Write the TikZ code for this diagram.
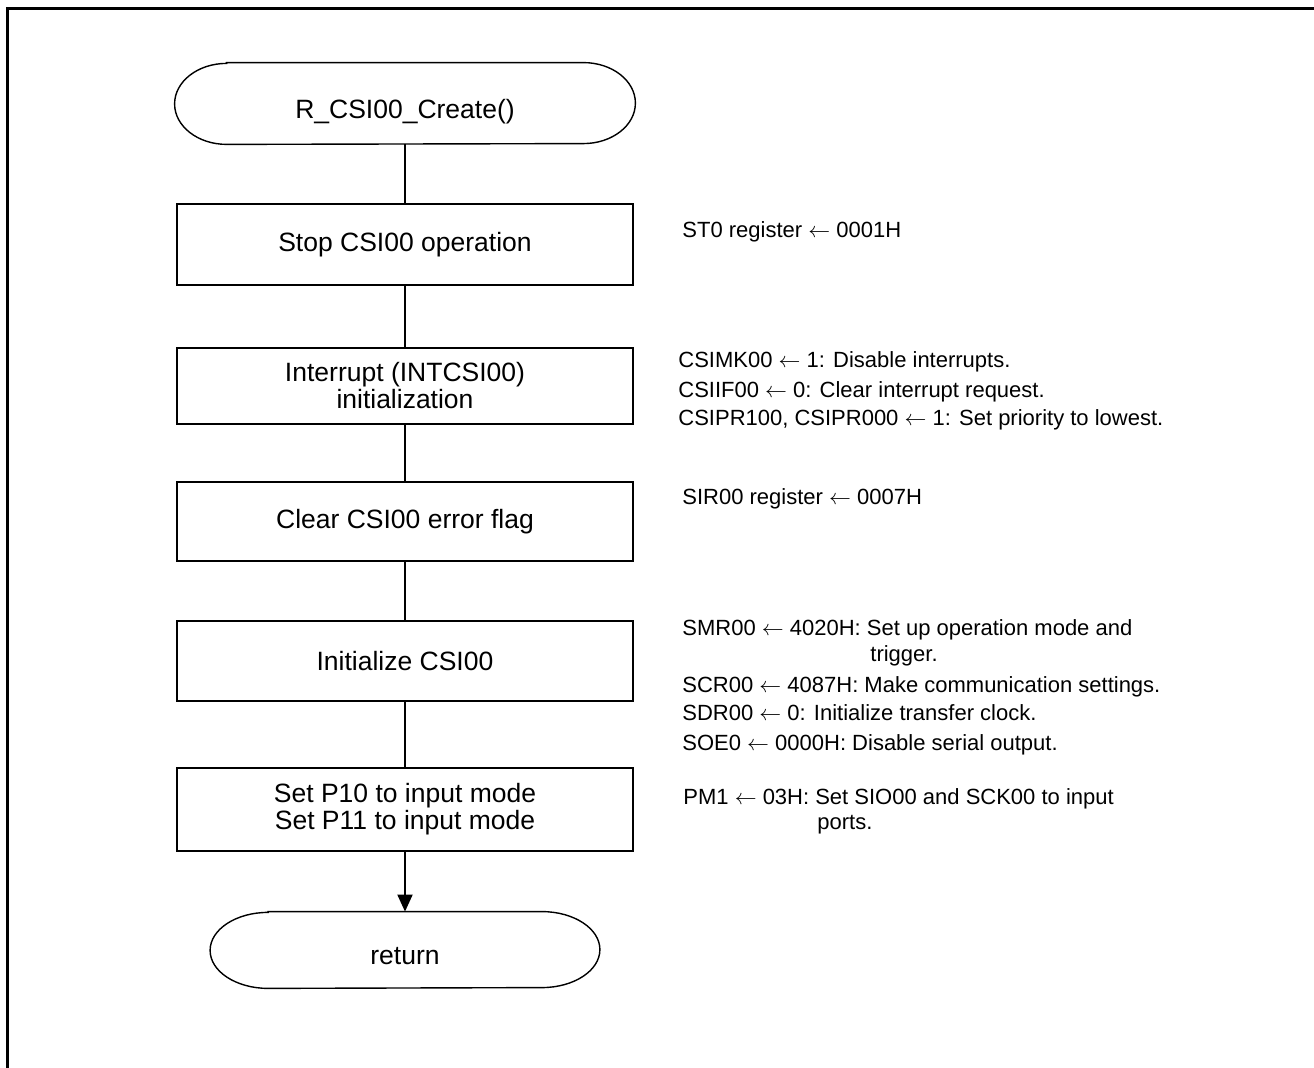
\documentclass[tikz,border=0pt]{standalone}
\usepackage{fontspec}
\setmainfont{Liberation Sans}
\usepackage{tikz}
\usetikzlibrary{arrows.meta}

% start/end symbol: flat top and bottom, half-ellipse ends
\newcommand{\stadium}[3]{%
  \draw[line width=0.7pt] ([xshift=#2]#1.north west) -- ([xshift=-#2]#1.north east)
    arc[start angle=90,end angle=-90,x radius=#2,y radius=#3]
    -- ([xshift=#2]#1.south west)
    arc[start angle=270,end angle=90,x radius=#2,y radius=#3] -- cycle;}

\begin{document}
\begin{tikzpicture}[x=0.5pt,y=-0.5pt,
    proc/.style={rectangle,draw,line width=1pt,minimum width=228pt,inner sep=0pt,align=center,font=\fontsize{13.25pt}{13.5pt}\selectfont},
    term/.style={rectangle,inner sep=0pt,text height=16.5pt,text depth=1.5pt,font=\fontsize{13.25pt}{13.5pt}\selectfont},
    note/.style={anchor=base west,inner sep=0pt,font=\fontsize{11pt}{14pt}\selectfont},
    link/.style={line width=1pt}
]
\useasboundingbox (0,0) rectangle (1314,1068);
\draw[line width=1.5pt] (7,1068) -- (7,9) -- (1314,9);

% flow
\node[term,minimum width=230pt,minimum height=40.5pt] (start) at (405,103.5) {R\_CSI00\_Create()};
\stadium{start}{26pt}{20.25pt}
\node[proc,minimum height=40.5pt] (stop) at (405,244.5) {Stop CSI00 operation};
\node[proc,minimum height=38pt] (intr) at (405,386) {Interrupt (INTCSI00)\\initialization};
\node[proc,minimum height=39.5pt] (clr) at (405,521.5) {Clear CSI00 error flag};
\node[proc,minimum height=40pt] (init) at (405,661) {Initialize CSI00};
\node[proc,minimum height=41.5pt] (port) at (405,809.5) {Set P10 to input mode\\Set P11 to input mode};
\node[term,minimum width=194.5pt,minimum height=38pt] (ret) at (405,950) {return};
\stadium{ret}{29pt}{19pt}

\draw[link] (start.south) -- (stop.north);
\draw[link] (stop.south) -- (intr.north);
\draw[link] (intr.south) -- (clr.north);
\draw[link] (clr.south) -- (init.north);
\draw[link] (init.south) -- (port.north);
\draw[link,-{Triangle[length=8.5pt,width=7.5pt]}] (port.south) -- (ret.north);

% notes
\node[note] (st0) at (682,238) {ST0 register $\leftarrow$ 0001H};
\node[note] (mk) at (678,368) {CSIMK00 $\leftarrow$ 1: Disable interrupts.};
\node[note] (if) at (678,398) {CSIIF00 $\leftarrow$ 0: Clear interrupt request.};
\node[note] (pr) at (678,426) {CSIPR100, CSIPR000 $\leftarrow$ 1: Set priority to lowest.};
\node[note] (sir) at (682,505) {SIR00 register $\leftarrow$ 0007H};
\node[note] (smr) at (682,636) {SMR00 $\leftarrow$ 4020H: Set up operation mode and};
\node[note] (smrb) at (870,662) {trigger.};
\node[note] (scr) at (682,693) {SCR00 $\leftarrow$ 4087H: Make communication settings.};
\node[note] (sdr) at (682,721) {SDR00 $\leftarrow$ 0: Initialize transfer clock.};
\node[note] (soe) at (682,751) {SOE0 $\leftarrow$ 0000H: Disable serial output.};
\node[note] (pm) at (683,805) {PM1 $\leftarrow$ 03H: Set SIO00 and SCK00 to input};
\node[note] (pmb) at (817,830) {ports.};
\end{tikzpicture}
\end{document}
